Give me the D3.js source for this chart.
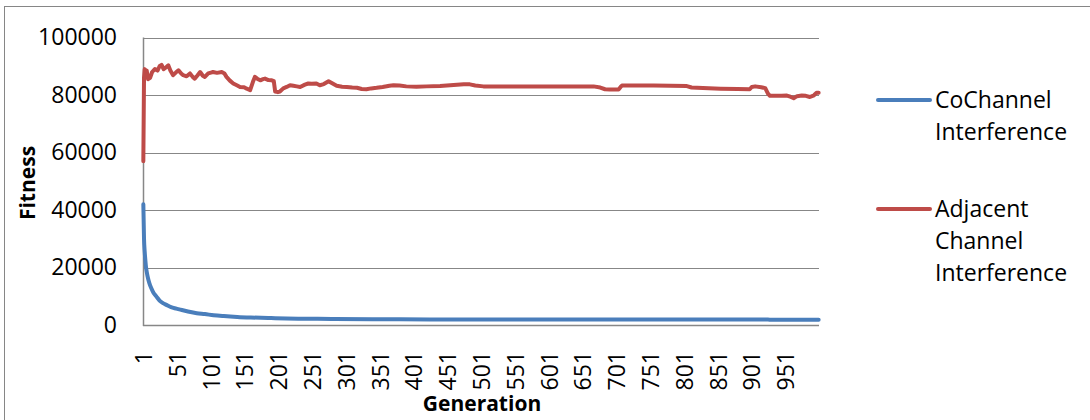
<!DOCTYPE html>
<html><head><meta charset="utf-8">
<script src="https://cdn.jsdelivr.net/npm/d3@7"></script>
<style>body{margin:0;background:#fff}svg{display:block}</style>
</head><body>
<svg id="chart" width="1090" height="420"></svg>
<script>
const seriesNames = ["CoChannel Interference", "Adjacent Channel Interference"];
const xTickLabels = ["1","51","101","151","201","251","301","351","401","451","501","551","601","651","701","751","801","851","901","951"];
const yTicks = [0, 20000, 40000, 60000, 80000, 100000];

const coGen = [1,2,3,4,5,6,8,10,13,16,20,25,30,35,42,50,58,67,80,92,105,120,140,160,190,230,280,340,425,600,800,925,930,1000];
const coVal = [42000,30000,25500,22500,20000,18500,16200,14500,12700,11200,10000,8500,7600,7000,6200,5700,5200,4700,4100,3800,3400,3100,2800,2600,2400,2200,2100,2000,1950,1900,1900,1900,1800,1800];

const adjGen = [1,2,3,4,6,8,11,14,18,22,25,28,31,35,38,41,45,49,53,57,60,65,70,74,77,81,85,89,92,97,101,104,110,117,121,124,129,134,140,144,150,154,159,163,166,170,174,178,181,186,191,194,196,200,203,208,213,218,223,228,233,240,245,250,257,262,268,275,281,287,295,302,310,317,324,331,338,346,355,365,371,380,390,405,420,440,460,475,484,492,504,550,583,620,667,677,684,691,704,707,709,756,805,812,820,855,880,898,901,906,915,921,925,928,945,953,958,963,968,975,981,987,993,997,1000];
const adjVal = [57000,86000,89000,87000,88500,85500,86000,88000,89000,88500,90000,90500,89000,89700,90300,88500,86900,87800,88600,87500,86900,86500,87500,86300,85700,86800,88000,86700,86300,87500,87800,88000,87700,88000,87500,86300,85000,84000,83300,82800,82700,82200,81700,84500,86300,85600,85100,85500,85700,85200,85100,84800,81200,81000,81200,82300,82800,83400,83200,83000,82800,83600,84000,83900,84000,83400,83800,84800,84000,83200,82900,82800,82600,82500,82100,82000,82300,82500,82800,83200,83400,83300,83000,82900,83000,83100,83500,83700,83700,83300,83000,83000,83000,83000,83000,82600,82000,81900,81900,82800,83300,83300,83100,82600,82500,82200,82100,82000,82800,83000,82700,82400,80500,79700,79700,79800,79400,78900,79600,79800,79700,79300,79900,80800,80800];

const colors = ["#4A7EBB", "#BE4B48"];
const font = "'Open Sans', sans-serif";

const svg = d3.select("#chart");
svg.append("rect").attr("x", 4.5).attr("y", 6.5).attr("width", 1200).attr("height", 600)
  .attr("fill", "none").attr("stroke", "#868686").attr("stroke-width", 1);

const x = d3.scaleLinear().domain([0.5, 1000.5]).range([143, 819]);
const y = d3.scaleLinear().domain([0, 100000]).range([325, 37.5]);

// gridlines
svg.append("g").selectAll("line").data(yTicks.filter(d => d > 0)).join("line")
  .attr("x1", 143).attr("x2", 819)
  .attr("y1", d => Math.round(y(d)) + 0.5).attr("y2", d => Math.round(y(d)) + 0.5)
  .attr("stroke", "#878787").attr("stroke-width", 1);

// y axis
const yAxis = d3.axisLeft(y).tickValues(yTicks).tickSize(0).tickPadding(0).tickFormat(d3.format("d"));
const gy = svg.append("g").attr("transform", "translate(117,0)").call(yAxis);
gy.select(".domain").remove();
gy.selectAll("text").attr("font-family", font).attr("font-size", 23).attr("fill", "#000");
svg.append("line").attr("x1", 143.5).attr("x2", 143.5).attr("y1", 37.5).attr("y2", 326)
  .attr("stroke", "#878787").attr("stroke-width", 1.5);

// x axis
const xAxis = d3.axisBottom(x).tickValues(xTickLabels.map(Number)).tickSize(0).tickFormat(d => String(d));
const gx = svg.append("g").attr("transform", "translate(0,325)").call(xAxis);
gx.select(".domain").remove();
gx.selectAll("text")
  .attr("font-family", font).attr("font-size", 23).attr("fill", "#000")
  .attr("transform", "rotate(-90)")
  .attr("text-anchor", "end")
  .attr("dy", "0.35em")
  .attr("x", -26).attr("y", 0);
svg.append("line").attr("x1", 143).attr("x2", 819).attr("y1", 325.5).attr("y2", 325.5)
  .attr("stroke", "#878787").attr("stroke-width", 1.5);

// lines
const line = d3.line().x(d => x(d[0])).y(d => y(d[1]));
svg.append("path").datum(adjGen.map((g, i) => [g, adjVal[i]]))
  .attr("d", line).attr("fill", "none").attr("stroke", colors[1]).attr("stroke-width", 4)
  .attr("stroke-linejoin", "round").attr("stroke-linecap", "round");
svg.append("path").datum(coGen.map((g, i) => [g, coVal[i]]))
  .attr("d", d3.line().curve(d3.curveMonotoneX).x(d => x(d[0])).y(d => y(d[1])))
  .attr("fill", "none").attr("stroke", colors[0]).attr("stroke-width", 4)
  .attr("stroke-linejoin", "round").attr("stroke-linecap", "round");

// axis titles
svg.append("text").attr("x", 482).attr("y", 411).attr("text-anchor", "middle")
  .attr("font-family", font).attr("font-weight", "bold").attr("font-size", 21).text("Generation");
svg.append("text").attr("transform", "translate(35,183) rotate(-90)").attr("text-anchor", "middle")
  .attr("font-family", font).attr("font-weight", "bold").attr("font-size", 21).text("Fitness");

// legend
const legendLines = [["CoChannel", "Interference"], ["Adjacent", "Channel", "Interference"]];
const legendY = [100, 209];
legendLines.forEach((lines, i) => {
  svg.append("line").attr("x1", 878).attr("x2", 930).attr("y1", legendY[i]).attr("y2", legendY[i])
    .attr("stroke", colors[i]).attr("stroke-width", 4).attr("stroke-linecap", "round");
  const t = svg.append("text").attr("font-family", font).attr("font-size", 23).attr("fill", "#000");
  lines.forEach((s, k) => {
    t.append("tspan").attr("x", 935).attr("y", legendY[i] + 8 + k * 32).text(s);
  });
});
</script>
</body></html>
